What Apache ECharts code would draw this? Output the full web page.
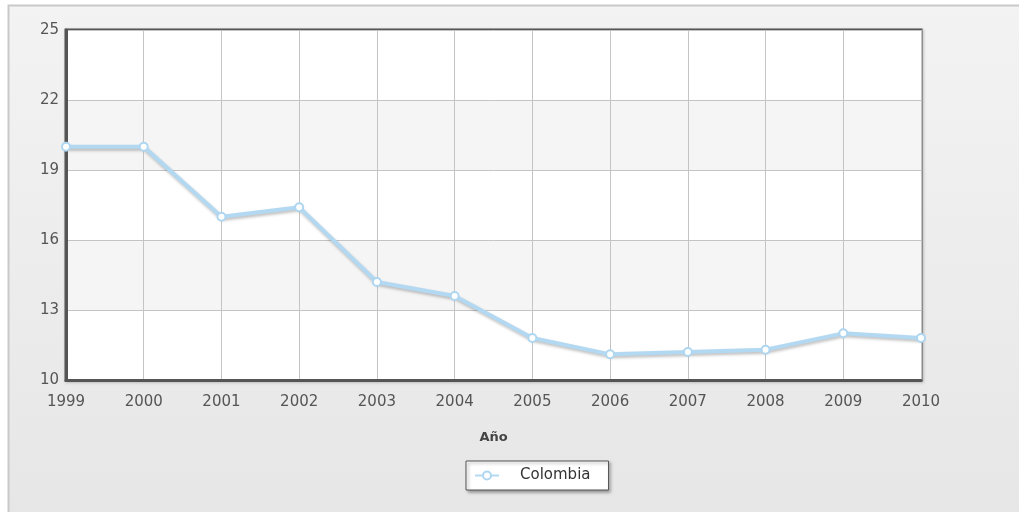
<!DOCTYPE html>
<html lang="es">
<head>
<meta charset="UTF-8">
<title>Colombia</title>
<script src="https://cdn.jsdelivr.net/npm/echarts@6/dist/echarts.min.js"></script>
<style>
  html, body { margin: 0; padding: 0; background: #fff; }
  #chart { width: 1019px; height: 512px; }
</style>
</head>
<body>
<div id="chart"></div>
<script>
// datos
const years = ['1999', '2000', '2001', '2002', '2003', '2004', '2005', '2006', '2007', '2008', '2009', '2010'];
const colombia = [20.0, 20.0, 17.0, 17.4, 14.2, 13.6, 11.8, 11.1, 11.2, 11.3, 12.0, 11.8];
const yTicks = [10, 13, 16, 19, 22, 25];

const font = 'DejaVu Sans';
const chart = echarts.init(document.getElementById('chart'));

chart.setOption({
  animation: false,
  textStyle: { fontFamily: font },
  graphic: [{
    type: 'rect',
    z: -10,
    shape: { x: 8.5, y: 5.5, width: 1100, height: 600 },
    style: {
      fill: new echarts.graphic.LinearGradient(0, 0, 0, 1, [
        { offset: 0, color: '#f3f3f3' },
        { offset: 1, color: '#e4e4e4' }
      ]),
      stroke: '#c9c9c9',
      lineWidth: 2
    }
  }],
  grid: {
    left: 66, top: 30, right: 98, bottom: 132,
    show: true,
    borderColor: '#555',
    borderWidth: 3,
    shadowColor: 'rgba(0,0,0,0.25)',
    shadowBlur: 3,
    shadowOffsetX: 1,
    shadowOffsetY: 1
  },
  xAxis: {
    type: 'category',
    data: years,
    boundaryGap: false,
    name: 'Año',
    nameLocation: 'middle',
    nameGap: 51,
    nameTextStyle: { fontWeight: 'bold', fontSize: 13, color: '#444', fontFamily: font },
    axisLine: { lineStyle: { color: '#555', width: 3 } },
    axisTick: { show: false },
    axisLabel: { color: '#555', fontSize: 15, margin: 15, fontFamily: font },
    splitLine: { show: true, lineStyle: { color: '#c4c4c4', width: 1 } }
  },
  yAxis: {
    type: 'value',
    min: yTicks[0],
    max: yTicks[yTicks.length - 1],
    interval: 3,
    axisLine: { show: true, lineStyle: { color: '#555', width: 3 } },
    axisTick: { show: false },
    axisLabel: { color: '#555', fontSize: 15, margin: 7, fontFamily: font },
    splitLine: { lineStyle: { color: '#c4c4c4', width: 1 } },
    splitArea: { show: true, areaStyle: { color: ['#ffffff', '#f5f5f5'] } }
  },
  legend: {
    bottom: 22,
    left: 466,
    data: ['Colombia'],
    backgroundColor: '#fff',
    borderColor: '#555',
    borderWidth: 1,
    borderRadius: 0,
    padding: [7, 18, 7, 8],
    itemWidth: 24,
    itemHeight: 10,
    itemGap: 10,
    shadowColor: 'rgba(0,0,0,0.35)',
    shadowBlur: 3,
    shadowOffsetX: 2,
    shadowOffsetY: 2,
    textStyle: { color: '#333', fontSize: 15, fontFamily: font, padding: [0, 0, 0, 16] }
  },
  series: [{
    name: 'Colombia',
    type: 'line',
    data: colombia,
    symbol: 'circle',
    symbolSize: 8,
    itemStyle: { color: '#fff', borderColor: '#aed6f1', borderWidth: 2 },
    lineStyle: {
      color: '#b3d9f2',
      width: 4,
      shadowColor: 'rgba(0,0,0,0.25)',
      shadowBlur: 3,
      shadowOffsetX: 1,
      shadowOffsetY: 2
    }
  }]
});
</script>
</body>
</html>
